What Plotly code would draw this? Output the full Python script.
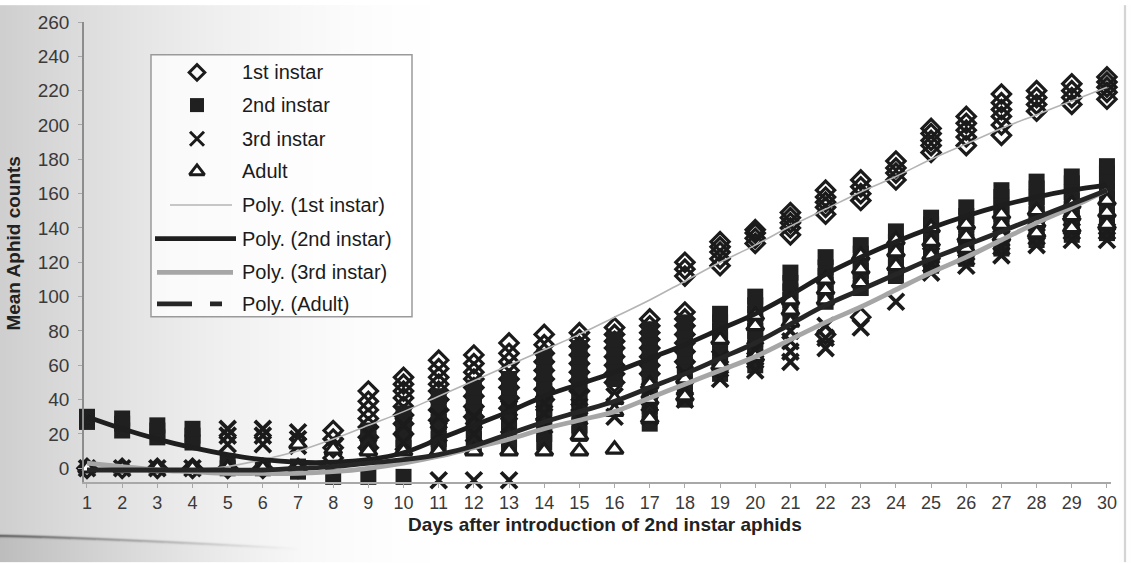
import base64
import struct
import zlib

import numpy as np
import plotly.graph_objects as go

# ---------------------------------------------------------------- data
days = list(range(1, 31))

# replicate counts per day (one inner list per day, days 1..30)
first_instar = [
    [0], [0], [0], [0], [0], [0], [0],
    [6, 12, 17, 22],
    [12, 18, 24, 29, 34, 39, 45],
    [20, 26, 31, 36, 41, 45, 49, 53],
    [28, 34, 40, 45, 49, 53, 58, 63],
    [30, 36, 42, 47, 52, 56, 61, 66],
    [35, 41, 47, 52, 57, 62, 67, 73],
    [40, 46, 52, 57, 62, 67, 72, 78],
    [45, 51, 56, 61, 66, 71, 75, 79],
    [50, 55, 60, 65, 70, 74, 78, 82],
    [55, 60, 65, 70, 75, 79, 83, 87],
    [62, 68, 73, 78, 83, 87, 91, 112, 116, 120],
    [118, 122, 126, 129, 132],
    [131, 134, 137, 139],
    [136, 140, 143, 146, 149],
    [78, 148, 152, 155, 158, 162],
    [88, 156, 160, 164, 168],
    [168, 172, 175, 179],
    [184, 188, 191, 195, 198],
    [188, 193, 197, 201, 205],
    [194, 200, 205, 209, 213, 218],
    [208, 212, 216, 220],
    [212, 216, 220, 224],
    [215, 219, 222, 225, 228],
]

second_instar = [
    [27, 30],
    [22, 26, 29],
    [18, 22, 25],
    [15, 19, 23],
    [0, 4],
    [0],
    [-2, 1],
    [-5],
    [-5, 12, 17, 22],
    [-5, 12, 17, 22, 27, 32],
    [12, 17, 22, 27, 32, 37, 42],
    [12, 17, 22, 27, 32, 37, 42, 47],
    [12, 17, 22, 27, 32, 37, 42, 47, 52],
    [15, 20, 25, 30, 35, 40, 45, 50, 55, 60, 65],
    [20, 25, 30, 35, 40, 45, 50, 55, 60, 65, 70],
    [52, 56, 60, 65, 70, 75],
    [26, 31, 36, 41, 46, 51, 56, 61, 66, 71, 76, 81],
    [40, 45, 50, 55, 60, 65, 70, 75, 80, 85],
    [55, 60, 65, 70, 75, 80, 85, 90],
    [60, 65, 70, 75, 80, 85, 90, 95, 100],
    [88, 93, 98, 103, 108, 114],
    [97, 102, 107, 112, 117, 123],
    [105, 110, 115, 120, 125, 130],
    [112, 117, 122, 127, 132, 138],
    [118, 122, 127, 132, 137, 142, 146],
    [122, 127, 132, 137, 142, 147, 152],
    [128, 133, 138, 143, 148, 153, 158, 162],
    [133, 138, 143, 148, 153, 158, 163, 167],
    [136, 141, 146, 151, 156, 161, 166, 170],
    [137, 142, 147, 152, 157, 162, 167, 172, 176],
]

third_instar = [
    [0], [0], [0], [0],
    [14, 19, 23],
    [14, 19, 23],
    [13, 17, 21],
    [12],
    [20],
    [15, 25],
    [-7, 20, 30],
    [-7, 20, 30],
    [-7, 25, 35],
    [25, 32, 38],
    [30, 36, 41],
    [30, 36, 42],
    [30, 38, 45],
    [40, 47, 55],
    [52, 58, 64],
    [57, 63, 69],
    [62, 68, 74, 80],
    [70, 76, 83],
    [82],
    [97],
    [114, 119, 124],
    [118, 123, 128],
    [124, 129, 134],
    [130, 135, 140],
    [133, 138, 143],
    [133, 138, 143],
]

adult = [
    [0], [0], [0], [0], [0], [0],
    [0, 14],
    [11], [10], [10], [10], [10], [10], [10],
    [10, 19],
    [11, 33, 40],
    [29, 40, 49],
    [42, 52],
    [60, 75],
    [65, 83, 89],
    [85, 92, 98],
    [98, 104, 110],
    [108, 116, 124],
    [118, 126, 133],
    [124, 132, 140],
    [128, 135, 142],
    [135, 142, 148],
    [137, 143, 150],
    [140, 147, 154],
    [142, 149, 156],
]

# polynomial trend values per day
poly_first = [-1, -2, -2, -1, 1, 5, 10, 17, 25, 33, 42, 51, 60, 69, 78,
              88, 98, 109, 120, 130, 141, 151, 161, 170, 180, 189, 198, 206, 214, 222]
poly_second = [30, 23, 17, 12, 8, 5, 3.5, 3.5, 5, 9, 17, 25, 33, 42, 49,
               56, 64, 72, 81, 90, 101, 113, 123, 132, 140, 147, 153, 158, 162, 165]
poly_third = [3, 1, -1, -2, -3, -3, -3, -2, 0, 3, 7, 12, 17, 23, 28,
              33, 41, 49, 57, 65, 75, 85, 94, 104, 114, 123, 133, 143, 152, 162]
poly_adult = [-1, -1, -1, -1, -1, -1, 0, 1, 3, 5, 8, 13, 20, 27, 33,
              39, 47, 55, 64, 73, 84, 95, 104, 113, 122, 130, 138, 146, 154, 162]

y_ticks = list(range(0, 261, 20))

series_names = ["1st instar", "2nd instar", "3rd instar", "Adult"]
trend_names = ["Poly. (1st instar)", "Poly. (2nd instar)",
               "Poly. (3rd instar)", "Poly. (Adult)"]

# ---------------------------------------------------------------- geometry
W, H = 1131, 563
ML, MR, MT, MB = 84, 20, 17, 81
PW, PH = W - ML - MR, H - MT - MB
FONT = "Liberation Sans, Arial, sans-serif"
INK = "#1b1b1b"


def flatten(per_day):
    xs, ys = [], []
    for d, vals in zip(days, per_day):
        for v in vals:
            xs.append(d)
            ys.append(v)
    return xs, ys


def haze_png(w, h):
    """Greyish scanner shading, page fold at the lower left and the page edge."""
    xs = np.arange(w, dtype=float)[None, :]
    ys = np.arange(h, dtype=float)[:, None]
    left = np.clip(1 - xs / 430.0, 0, 1) ** 1.6
    shade = 255 - 48 * left + 0 * ys
    # fold line at the lower left
    fade = np.clip(1 - xs / 300.0, 0, 1)
    fold_y = 536 + 11 * (xs / 260.0) ** 1.3
    near = np.exp(-((ys - fold_y) / 1.3) ** 2)
    shade = shade - 120 * near * fade
    below = (ys > fold_y + 1).astype(float)
    shade = shade - 18 * below * fade
    # right page edge
    edge = np.exp(-((xs - 1124.5) / 1.0) ** 2)
    shade = shade - 55 * edge + 0 * ys
    img = np.clip(shade, 0, 255).astype(np.uint8)
    raw = b"".join(b"\x00" + row.tobytes() for row in img)

    def chunk(tag, data):
        body = tag + data
        return struct.pack(">I", len(data)) + body + struct.pack(">I", zlib.crc32(body) & 0xFFFFFFFF)

    png = (b"\x89PNG\r\n\x1a\n"
           + chunk(b"IHDR", struct.pack(">IIBBBBB", w, h, 8, 0, 0, 0, 0))
           + chunk(b"IDAT", zlib.compress(raw, 9))
           + chunk(b"IEND", b""))
    return "data:image/png;base64," + base64.b64encode(png).decode()


fig = go.Figure()

# ---------------------------------------------------------------- markers
marker_styles = [
    dict(symbol="diamond-open", size=14, color=INK, line=dict(color=INK, width=3.2)),
    dict(symbol="square", size=16, color="#202020", line=dict(color="#202020", width=0)),
    dict(symbol="x-thin", size=16, color=INK, line=dict(color=INK, width=3.8)),
    dict(symbol="triangle-up", size=15, color="white", line=dict(color=INK, width=3.2)),
]
for name, data, mk in zip(series_names,
                          [first_instar, second_instar, third_instar, adult],
                          marker_styles):
    xs, ys = flatten(data)
    fig.add_trace(go.Scatter(x=xs, y=ys, mode="markers", name=name,
                             marker=mk, showlegend=False, cliponaxis=False))

# ---------------------------------------------------------------- trend lines
trend_styles = [
    dict(color="#b4b4b4", width=1.6),
    dict(color="#1e1e1e", width=4.8),
    dict(color="#a6a6a6", width=4.8),
    dict(color="#262626", width=4.8),
]
for name, vals, ln in zip(trend_names,
                          [poly_first, poly_second, poly_third, poly_adult],
                          trend_styles):
    fig.add_trace(go.Scatter(x=days, y=vals, mode="lines", name=name,
                             line=dict(shape="spline", smoothing=1.0, **ln),
                             showlegend=False, cliponaxis=False))

# ---------------------------------------------------------------- legend box
# drawn on a pixel-space overlay axis pair (x2/y2)
leg_rows = [68, 101, 135, 168, 202, 236, 270, 302]
leg_sym_x = 197
leg_text_x = 240

for i, mk in enumerate(marker_styles):
    lm = dict(mk)
    lm["size"] = {0: 12, 1: 14, 2: 14, 3: 13}[i]
    lm["line"] = dict(mk["line"], width=min(mk["line"]["width"], 3.0))
    fig.add_trace(go.Scatter(x=[leg_sym_x], y=[leg_rows[i]], xaxis="x2", yaxis="y2",
                             mode="markers", marker=lm, showlegend=False,
                             hoverinfo="skip", cliponaxis=False))

leg_line_spans = [(170, 232), (155, 236), (157, 233), (157, 222)]
for i, (ln, span) in enumerate(zip(trend_styles, leg_line_spans)):
    style = dict(ln)
    if i == 3:
        style["dash"] = "35px,18px,12px"
    fig.add_trace(go.Scatter(x=list(span), y=[leg_rows[4 + i]] * 2, xaxis="x2", yaxis="y2",
                             mode="lines", line=style, showlegend=False,
                             hoverinfo="skip", cliponaxis=False))

annotations = []
for row, label in zip(leg_rows, series_names + trend_names):
    annotations.append(dict(x=leg_text_x, y=row, xref="x2", yref="y2", text=label,
                            showarrow=False, xanchor="left", yanchor="middle",
                            font=dict(family=FONT, size=20, color=INK)))

# axis titles
annotations.append(dict(x=(605 - ML) / PW, y=(H - MB - 525) / PH, xref="paper", yref="paper",
                        text="<b>Days after introduction of 2nd instar aphids</b>",
                        showarrow=False, xanchor="center", yanchor="middle",
                        font=dict(family=FONT, size=19, color="#222222")))
annotations.append(dict(x=(14 - ML) / PW, y=(H - MB - 241) / PH, xref="paper", yref="paper",
                        text="<b>Mean Aphid counts</b>", textangle=-90,
                        showarrow=False, xanchor="center", yanchor="middle",
                        font=dict(family=FONT, size=19, color="#222222")))

shapes = [
    dict(type="rect", xref="x2", yref="y2", x0=151, x1=412, y0=50, y1=315,
         line=dict(color="#9a9a9a", width=1.5), fillcolor="rgba(255,255,255,0.75)",
         layer="below"),
]

fig.update_layout(
    width=W, height=H,
    margin=dict(l=ML, r=MR, t=MT, b=MB, pad=0),
    paper_bgcolor="white",
    plot_bgcolor="rgba(0,0,0,0)",
    showlegend=False,
    font=dict(family=FONT, color="#3a3a3a"),
    xaxis=dict(
        range=[0.915, 30.115], tickmode="array", tickvals=days,
        ticktext=[str(d) for d in days],
        showgrid=False, zeroline=False, showline=True,
        linecolor="#a8a8a8", linewidth=1.5,
        ticks="outside", ticklen=4, tickcolor="#a8a8a8", tickwidth=1.2,
        tickfont=dict(family=FONT, size=18, color="#3a3a3a"),
    ),
    yaxis=dict(
        range=[-8, 260], tickmode="array", tickvals=y_ticks,
        showgrid=False, zeroline=False, showline=True,
        linecolor="#8c8c8c", linewidth=1.5,
        ticks="outside", ticklen=4, tickcolor="#a8a8a8", tickwidth=1.2,
        ticklabelstandoff=5,
        tickfont=dict(family=FONT, size=19, color="#3a3a3a"),
    ),
    xaxis2=dict(overlaying="x", range=[ML, ML + PW], visible=False),
    yaxis2=dict(overlaying="y", range=[MT + PH, MT], visible=False),
    annotations=annotations,
    shapes=shapes,
    images=[dict(source=haze_png(W, H), xref="paper", yref="paper",
                 x=-ML / PW, y=1 + MT / PH, sizex=W / PW, sizey=H / PH,
                 sizing="stretch", xanchor="left", yanchor="top", layer="below")],
)

fig.write_html("out.html")
